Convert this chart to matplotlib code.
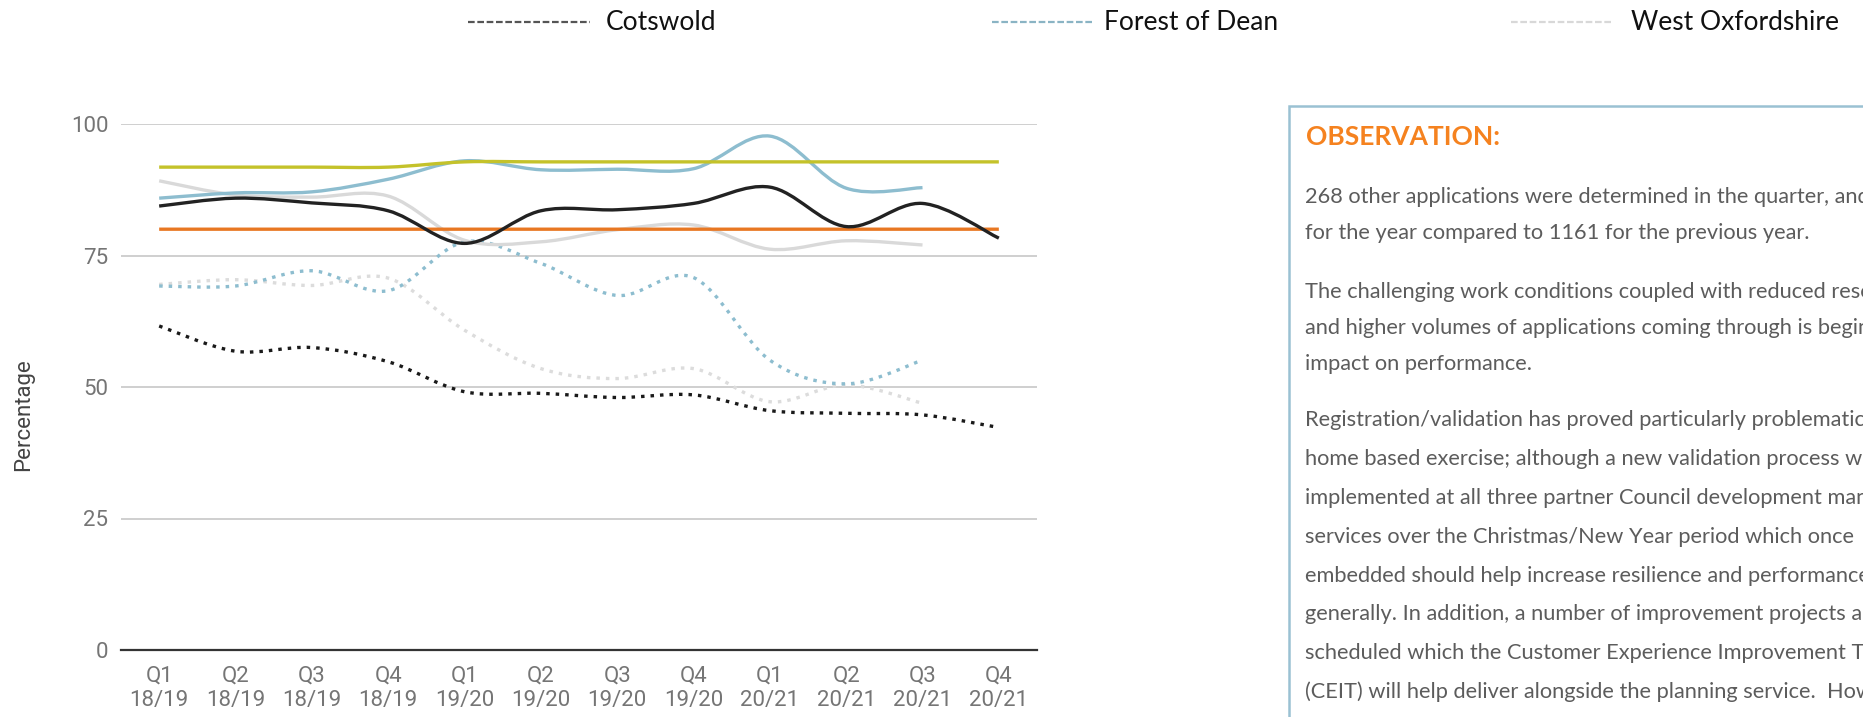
import numpy as np
import matplotlib
matplotlib.use('Agg')
import matplotlib.pyplot as plt
from matplotlib.path import Path
from matplotlib.patches import PathPatch, Rectangle
from matplotlib.lines import Line2D

W, H, DPI = 1863, 717, 100
nan = np.nan

quarters = ['Q1\n18/19', 'Q2\n18/19', 'Q3\n18/19', 'Q4\n18/19',
            'Q1\n19/20', 'Q2\n19/20', 'Q3\n19/20', 'Q4\n19/20',
            'Q1\n20/21', 'Q2\n20/21', 'Q3\n20/21', 'Q4\n20/21']

# solid series
cotswold = [84.4, 85.9, 85.0, 83.5, 77.3, 83.5, 83.7, 84.9, 88.0, 80.5, 84.9, 78.3]
forest_of_dean = [85.9, 86.9, 87.1, 89.5, 93.0, 91.3, 91.4, 91.5, 97.7, 87.8, 87.9, nan]
west_oxfordshire = [89.2, 86.5, 86.1, 86.3, 77.9, 77.6, 79.9, 80.8, 76.2, 77.8, 77.0, nan]
target_upper = [91.8, 91.8, 91.8, 91.8, 92.8, 92.8, 92.8, 92.8, 92.8, 92.8, 92.8, 92.8]
target_lower = [80, 80, 80, 80, 80, 80, 80, 80, 80, 80, 80, 80]

# dotted series
cotswold_dot = [61.6, 56.8, 57.5, 54.8, 49.1, 48.8, 48.0, 48.5, 45.5, 45.0, 44.7, 42.3]
forest_of_dean_dot = [69.2, 69.2, 72.1, 68.3, 77.6, 73.5, 67.4, 70.8, 55.1, 50.6, 55.1, nan]
west_oxfordshire_dot = [69.5, 70.4, 69.3, 70.7, 60.8, 53.5, 51.6, 53.5, 47.2, 50.4, 46.9, nan]

legend_names = ['Cotswold', 'Forest of Dean', 'West Oxfordshire']

C_BLACK = '#222222'
C_BLUE = '#8dbdcf'
C_GREY = '#d9d9d9'
C_OLIVE = '#c4c22a'
C_ORANGE = '#e87722'


def smooth_path(ys, k=1/6.):
    # cubic bezier through each point, catmull-rom style tangents
    p = np.array([(i, y) for i, y in enumerate(ys) if not np.isnan(y)], dtype=float)
    n = len(p)
    verts = [p[0]]
    codes = [Path.MOVETO]
    for i in range(n - 1):
        prev = p[i - 1] if i > 0 else p[i]
        nxt = p[i + 2] if i + 2 < n else p[i + 1]
        verts += [p[i] + (p[i + 1] - prev) * k,
                  p[i + 1] - (nxt - p[i]) * k,
                  p[i + 1]]
        codes += [Path.CURVE4] * 3
    return Path(verts, codes)


def draw(ax, ys, color, dotted=False, z=3):
    ls = (0, (1.05, 1.8)) if dotted else '-'
    patch = PathPatch(smooth_path(ys), fill=False, edgecolor=color, lw=2.4,
                      linestyle=ls, capstyle='butt', joinstyle='round', zorder=z)
    ax.add_patch(patch)


fig = plt.figure(figsize=(W / DPI, H / DPI), dpi=DPI)
ax = fig.add_axes([121 / W, 1 - 650 / H, 916 / W, 526 / H])
ax.set_xlim(-0.5, 11.5)
ax.set_ylim(0, 100)

ax.set_yticks([0, 25, 50, 75, 100])
ax.set_xticks(range(len(quarters)))
ax.set_xticklabels(quarters, linespacing=1.25)
ax.grid(axis='y', color='#cccccc', lw=1.3)
ax.set_axisbelow(True)
for s in ['left', 'right', 'top']:
    ax.spines[s].set_visible(False)
ax.spines['bottom'].set_color('#333333')
ax.spines['bottom'].set_linewidth(1.6)
ax.tick_params(length=0, labelsize=16, labelcolor='#757575')
ax.tick_params(axis='y', pad=9)
ax.tick_params(axis='x', pad=11)
for lab in ax.get_xticklabels() + ax.get_yticklabels():
    lab.set_family('Roboto')

draw(ax, cotswold_dot, '#1a1a1a', dotted=True)
draw(ax, forest_of_dean_dot, C_BLUE, dotted=True)
draw(ax, west_oxfordshire_dot, '#dcdcdc', dotted=True, z=2.9)
draw(ax, west_oxfordshire, C_GREY, z=3.1)
draw(ax, forest_of_dean, C_BLUE, z=3.2)
draw(ax, target_upper, C_OLIVE, z=3.3)
draw(ax, target_lower, C_ORANGE, z=3.4)
draw(ax, cotswold, C_BLACK, z=3.5)

fig.text(24 / W, 1 - 415 / H, 'Percentage', rotation=90, ha='center', va='center',
         fontsize=16, family='Roboto', color='#444444')

# legend across the top
leg_x = [(468, 590, 606), (992, 1094, 1104), (1511, 1613, 1631)]
leg_colors = ['#555555', '#8ab4c4', '#d8d8d8']
for (x0, x1, tx), name, col in zip(leg_x, legend_names, leg_colors):
    fig.add_artist(Line2D([x0 / W, x1 / W], [1 - 22 / H, 1 - 22 / H], transform=fig.transFigure,
                          color=col, lw=1.6, linestyle=(0, (3, 1.2)), solid_capstyle='butt'))
    fig.text(tx / W, 1 - 29.5 / H, name, fontsize=19, family='Lato', color='#111111',
             ha='left', va='baseline')

# observation panel on the right
fig.add_artist(Rectangle((1289 / W, -0.05), 0.4, 1.05 - 106 / H, transform=fig.transFigure,
                         facecolor='white', edgecolor='#9ac1d3', lw=1.8))
fig.text(1306 / W, 1 - 145 / H, 'OBSERVATION:', fontsize=19, family='Lato', weight='bold',
         color='#f5821f', ha='left', va='baseline')

# (first baseline, line step, lines)
paragraphs = [
    (203, 36, ['268 other applications were determined in the quarter, and',
               'for the year compared to 1161 for the previous year.']),
    (298, 36, ['The challenging work conditions coupled with reduced resources',
               'and higher volumes of applications coming through is beginning to have an',
               'impact on performance.']),
    (426, 38.9, ['Registration/validation has proved particularly problematic as a',
                 'home based exercise; although a new validation process was',
                 'implemented at all three partner Council development management',
                 'services over the Christmas/New Year period which once',
                 'embedded should help increase resilience and performance',
                 'generally. In addition, a number of improvement projects are',
                 'scheduled which the Customer Experience Improvement Team',
                 '(CEIT) will help deliver alongside the planning service.  However,']),
]
for top, step, lines in paragraphs:
    for i, line in enumerate(lines):
        fig.text(1305 / W, 1 - (top + i * step) / H, line, fontsize=15.7, family='Lato',
                 color='#5c5c5c', ha='left', va='baseline')

fig.savefig('out.png', dpi=DPI)
